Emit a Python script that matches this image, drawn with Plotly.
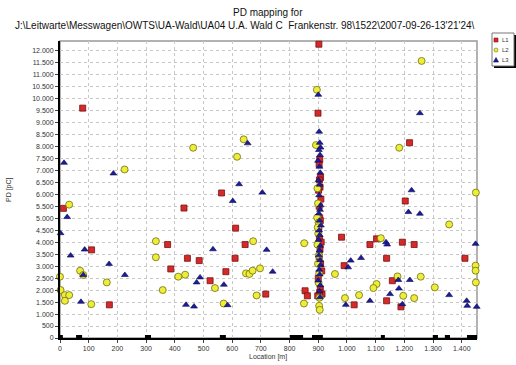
import plotly.graph_objects as go

# ---- data ----
l1_x = [79, 12, 432, 563, 612, 375, 645, 110, 444, 485, 610, 386, 578, 523, 717, 172,
        1218, 1203, 981, 1080, 1103, 1193, 1234, 1138, 1411, 990, 1158, 1138, 1025, 1188, 854, 862,
        902, 899, 905, 903, 908, 904, 906, 901, 909, 903, 905, 907, 902, 904, 910, 906, 903, 908,
        912, 900, 907, 913, 905, 898]
l1_y = [9597, 5413, 5426, 6055, 4586, 3902, 3902, 3680, 3328, 3231, 3328, 2883, 2769, 2392, 1833, 1385,
        8153, 5720, 4209, 3902, 4141, 4000, 3902, 3328, 3328, 3021, 2392, 1553, 1385, 1301, 1972, 1762,
        12265, 9387, 7450, 7250, 6700, 6600, 6300, 6170, 5800, 5500, 5000, 4900, 4600, 4150, 4000, 3700,
        3400, 3100, 2800, 2500, 2050, 1833, 1900, 1760]

l2_x = [225, 464, 617, 640, 1260, 1182, 32, 334, 673, 334, 70, 648, 660, 671, 697, 81, 412, 436, 0,
        163, 540, 358, 2, 17, 32, 17, 685, 109, 570, 1356, 1449, 851, 1118, 958, 1257, 1448, 1448,
        1449, 1176, 1103, 1092, 1306, 1196, 1234, 993, 1042, 850,
        895, 892, 897, 899, 896, 901, 898, 900, 897, 902, 899, 903, 901, 904, 903, 905]
l2_y = [7036, 7943, 7566, 8295, 11568, 7943, 5568, 4041, 4041, 3370, 2811, 2698, 2673, 2811, 2908, 2631,
        2560, 2643, 2560, 2320, 2085, 2001, 2001, 1791, 1791, 1553, 1776, 1414, 1439, 4741, 6072, 3957,
        4168, 2672, 2560, 3021, 2811, 2320, 2572, 2253, 2085, 2113, 1762, 1666, 1666, 1791, 1439,
        10364, 8056, 6250, 5620, 5030, 4820, 4620, 4360, 3900, 3440, 3100, 2690, 2310, 1680, 1343, 1175]

l3_x = [14, 186, 654, 1254, 624, 705, 602, 25, 2, 86, 533, 720, 37, 171, 741, 81, 226, 488, 476, 571,
        73, 439, 467, 584, 1225, 1214, 1254, 1136, 1140, 1448, 1049, 1013, 1004, 1179, 1219, 1181,
        1150, 1356, 1080, 996, 1193, 1417, 1419, 1452,
        900, 903, 905, 908, 902, 906, 899, 904, 907, 901, 905, 903, 908, 906, 902, 904, 909, 903,
        905, 901, 907, 904, 902, 906, 908, 903, 905, 900, 907, 904, 906]
l3_y = [7314, 6869, 8127, 9387, 6420, 6072, 5720, 5048, 4376, 3692, 3705, 3680, 3441, 3092, 2769, 2631,
        2631, 2530, 2320, 2224, 1511, 1385, 1313, 1372, 6168, 5258, 5188, 4000, 3902, 3930, 3342, 3231,
        2950, 2421, 2421, 2069, 1833, 1791, 1553, 1385, 1414, 1553, 1343, 1301,
        10154, 8615, 8150, 7950, 7850, 7640, 7400, 7150, 6900, 6590, 6400, 5960, 5540, 5350, 5200,
        4900, 4700, 4490, 4300, 4100, 3850, 3650, 3450, 3250, 3050, 2850, 2650, 2400, 2200, 1950, 1700]

seg_start = [0, 56, 296, 557, 801, 878, 1118, 1299, 1341, 1418]
seg_end = [10, 77, 317, 578, 847, 916, 1132, 1317, 1359, 1453]

y_ticks = list(range(0, 12001, 500))
y_labels = ["0", "500", "1.000", "1.500", "2.000", "2.500", "3.000", "3.500", "4.000", "4.500",
            "5.000", "5.500", "6.000", "6.500", "7.000", "7.500", "8.000", "8.500", "9.000",
            "9.500", "10.000", "10.500", "11.000", "11.500", "12.000"]
x_ticks = list(range(0, 1401, 100))
x_labels = ["0", "100", "200", "300", "400", "500", "600", "700", "800", "900",
            "1.000", "1.100", "1.200", "1.300", "1.400"]

series_names = ["L1", "L2", "L3"]
series_fill = ["#d42a2a", "#eeee3a", "#1c1c9c"]
series_edge = ["#7a1010", "#6e6e10", "#0a0a50"]

title_line1 = "PD mapping for"
title_line2 = ("J:\\Leitwarte\\Messwagen\\OWTS\\UA-Wald\\UA04 U.A. Wald C  "
               "Frankenstr. 98\\1522\\2007-09-26-13'21'24\\")
x_title = "Location [m]"
y_title = "PD [pC]"

# ---- geometry (pixels) ----
W, H = 516, 365
ML, MR, MT, MB = 60, 39, 41, 27
PW, PH = W - ML - MR, H - MT - MB


def px(x):
    return (x - ML) / PW


def py(y):
    return (H - MB - y) / PH


# ---- figure ----
fig = go.Figure()

seg_x, seg_y = [], []
for s, e in zip(seg_start, seg_end):
    seg_x += [s, e, None]
    seg_y += [0, 0, None]
fig.add_trace(go.Scatter(x=seg_x, y=seg_y, mode="lines", line=dict(color="black", width=6),
                         showlegend=False, hoverinfo="skip", cliponaxis=False))

fig.add_trace(go.Scatter(x=l1_x, y=l1_y, mode="markers", name="L1", cliponaxis=False,
                         marker=dict(symbol="square", size=6, color=series_fill[0],
                                     line=dict(color=series_edge[0], width=0.8))))
fig.add_trace(go.Scatter(x=l2_x, y=l2_y, mode="markers", name="L2", cliponaxis=False,
                         marker=dict(symbol="circle", size=7, color=series_fill[1],
                                     line=dict(color=series_edge[1], width=0.8))))
fig.add_trace(go.Scatter(x=l3_x, y=l3_y, mode="markers", name="L3", cliponaxis=False,
                         marker=dict(symbol="triangle-up", size=6, color=series_fill[2],
                                     line=dict(color=series_edge[2], width=0.6))))

fig.update_layout(
    width=W, height=H,
    margin=dict(l=ML, r=MR, t=MT, b=MB),
    paper_bgcolor="white", plot_bgcolor="white",
    font=dict(family="Liberation Sans, Arial, sans-serif", size=7, color="#333333"),
    showlegend=False,
    xaxis=dict(range=[0, 1453], tickvals=x_ticks, ticktext=x_labels,
               showgrid=True, gridcolor="#c8c8c8", griddash="dot", gridwidth=1,
               showline=True, linecolor="black", linewidth=2, mirror=False,
               ticks="outside", ticklen=3, tickcolor="#444444",
               zeroline=False, automargin=False),
    yaxis=dict(range=[0, 12400], tickvals=y_ticks, ticktext=y_labels,
               showgrid=True, gridcolor="#c8c8c8", griddash="dot", gridwidth=1,
               showline=True, linecolor="black", linewidth=2, mirror=False,
               ticks="outside", ticklen=3, tickcolor="#444444",
               zeroline=False, automargin=False),
)

# titles as annotations
fig.add_annotation(text=title_line1, xref="paper", yref="paper", x=px(268), y=py(13),
                   showarrow=False, xanchor="center", yanchor="middle",
                   font=dict(size=10, color="#111111"))
fig.add_annotation(text=title_line2, xref="paper", yref="paper", x=px(245), y=py(26),
                   showarrow=False, xanchor="center", yanchor="middle",
                   font=dict(size=10, color="#111111"))
fig.add_annotation(text=x_title, xref="paper", yref="paper", x=px(268), y=py(357),
                   showarrow=False, xanchor="center", yanchor="middle",
                   font=dict(size=7, color="#333333"))
fig.add_annotation(text=y_title, xref="paper", yref="paper", x=px(9), y=py(190),
                   showarrow=False, xanchor="center", yanchor="middle", textangle=-90,
                   font=dict(size=7, color="#333333"))

# right/top frame of the plot area
fig.add_shape(type="rect", xref="paper", yref="paper", x0=0, y0=0, x1=1, y1=1,
              line=dict(color="#999999", width=1.5), layer="below")

# ---- compact legend box (top right) ----
LX0, LX1, LY0, LY1 = 492, 514, 33, 66
fig.add_shape(type="rect", xref="paper", yref="paper",
              x0=px(LX0 + 2), x1=px(LX1 + 2), y0=py(LY1 + 2), y1=py(LY0 + 2),
              line=dict(width=0), fillcolor="black", layer="above")
fig.add_shape(type="rect", xref="paper", yref="paper",
              x0=px(LX0), x1=px(LX1), y0=py(LY1), y1=py(LY0),
              line=dict(color="#777777", width=1), fillcolor="white", layer="above")
row_y = [40, 50, 60]
mx = 496
s = 2
# L1 square
fig.add_shape(type="rect", xref="paper", yref="paper",
              x0=px(mx - s), x1=px(mx + s), y0=py(row_y[0] + s), y1=py(row_y[0] - s),
              line=dict(color=series_edge[0], width=0.6), fillcolor=series_fill[0], layer="above")
# L2 circle
fig.add_shape(type="circle", xref="paper", yref="paper",
              x0=px(mx - s), x1=px(mx + s), y0=py(row_y[1] + s), y1=py(row_y[1] - s),
              line=dict(color=series_edge[1], width=0.6), fillcolor=series_fill[1], layer="above")
# L3 triangle
tri = "M {a},{b} L {c},{b} L {d},{e} Z".format(
    a=px(mx - s - 0.5), b=py(row_y[2] + s), c=px(mx + s + 0.5), d=px(mx), e=py(row_y[2] - s - 0.5))
fig.add_shape(type="path", xref="paper", yref="paper", path=tri,
              line=dict(color=series_edge[2], width=0.6), fillcolor=series_fill[2], layer="above")
for name, ry in zip(series_names, row_y):
    fig.add_annotation(text=name, xref="paper", yref="paper", x=px(500), y=py(ry),
                       showarrow=False, xanchor="left", yanchor="middle",
                       font=dict(size=6, color="#333333"))

fig.write_html("out.html", post_script="document.body.style.margin='0';",
               config={"displayModeBar": False})
